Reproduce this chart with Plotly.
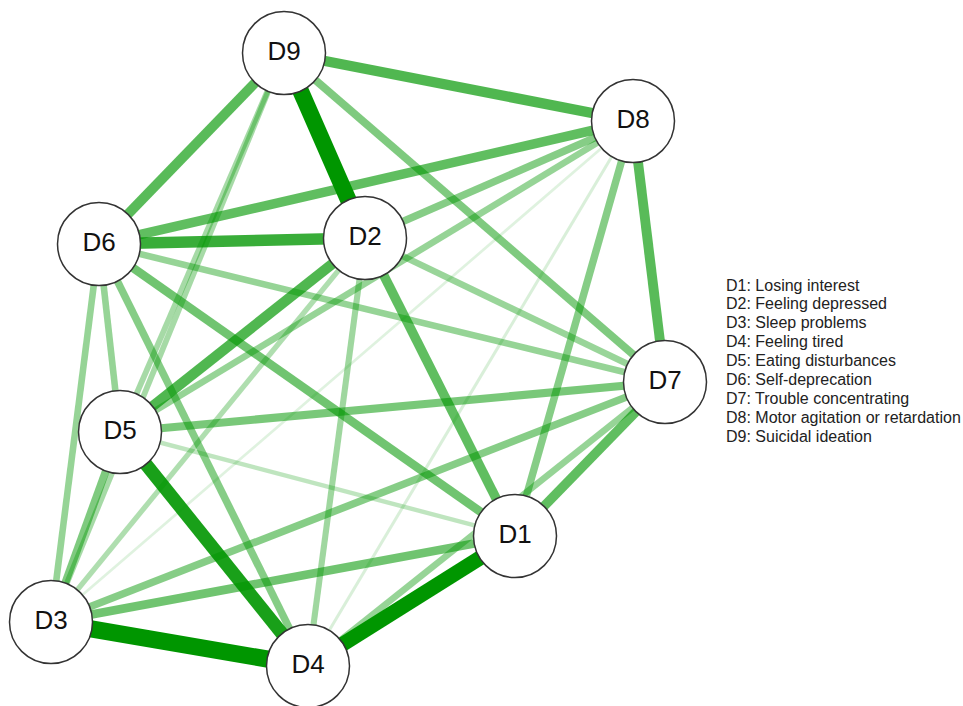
import plotly.graph_objects as go

# Nodes (layout coordinates, pixel-like space)
nodes = ["D1", "D2", "D3", "D4", "D5", "D6", "D7", "D8", "D9"]
node_x = [515, 365, 51, 308, 120, 99, 665, 633, 284]
node_y = [536, 238, 622, 666, 432, 244, 382, 121, 53]

# Edges: source, target, weight (0..1)
edge_src = ["D1", "D1", "D1", "D1", "D1", "D1", "D1",
            "D2", "D2", "D2", "D2", "D2", "D2", "D2",
            "D3", "D3", "D3", "D3", "D3", "D3",
            "D4", "D4", "D4", "D4",
            "D5", "D5", "D5", "D5",
            "D6", "D6", "D6",
            "D7", "D7",
            "D8"]
edge_dst = ["D2", "D3", "D4", "D5", "D6", "D7", "D8",
            "D3", "D4", "D5", "D6", "D7", "D8", "D9",
            "D4", "D5", "D6", "D7", "D8", "D9",
            "D5", "D6", "D7", "D8",
            "D6", "D7", "D8", "D9",
            "D7", "D8", "D9",
            "D8", "D9",
            "D9"]
edge_w = [0.50, 0.45, 0.82, 0.20, 0.45, 0.50, 0.38,
          0.25, 0.30, 0.55, 0.62, 0.32, 0.38, 0.92,
          0.95, 0.40, 0.33, 0.38, 0.10, 0.28,
          0.72, 0.38, 0.33, 0.12,
          0.33, 0.42, 0.33, 0.28,
          0.33, 0.50, 0.52,
          0.52, 0.40,
          0.55]

legend_lines = [
    "D1: Losing interest",
    "D2: Feeling depressed",
    "D3: Sleep problems",
    "D4: Feeling tired",
    "D5: Eating disturbances",
    "D6: Self-deprecation",
    "D7: Trouble concentrating",
    "D8: Motor agitation or retardation",
    "D9: Suicidal ideation",
]

pos = {n: (x, y) for n, x, y in zip(nodes, node_x, node_y)}

fig = go.Figure()

order = sorted(range(len(edge_w)), key=lambda i: edge_w[i])
for i in order:
    a, b, w = edge_src[i], edge_dst[i], edge_w[i]
    alpha = min(1.0, 1.25 * w)
    width = 1 + 17 * w
    fig.add_trace(go.Scatter(
        x=[pos[a][0], pos[b][0]], y=[pos[a][1], pos[b][1]],
        mode="lines",
        line=dict(color=f"rgba(0,150,0,{alpha:.3f})", width=width),
        hoverinfo="skip", showlegend=False,
    ))

fig.add_trace(go.Scatter(
    x=node_x, y=node_y, mode="markers+text", text=nodes,
    textposition="middle center",
    textfont=dict(family="Liberation Sans, Arial", size=26, color="#111111"),
    marker=dict(size=83, color="white", line=dict(color="#333333", width=1.5)),
    hoverinfo="skip", showlegend=False,
))

for k, t in enumerate(legend_lines):
    fig.add_annotation(
        x=724, y=285 + 18.9 * k, xref="x", yref="y", text=t,
        showarrow=False, xanchor="left", yanchor="middle",
        font=dict(family="Liberation Sans, Arial", size=16, color="#222222"),
    )

fig.update_layout(
    width=963, height=706, margin=dict(l=0, r=0, t=0, b=0),
    paper_bgcolor="white", plot_bgcolor="white",
    xaxis=dict(range=[0, 963], visible=False, fixedrange=True),
    yaxis=dict(range=[706, 0], visible=False, fixedrange=True),
)

fig.write_html("out.html")
